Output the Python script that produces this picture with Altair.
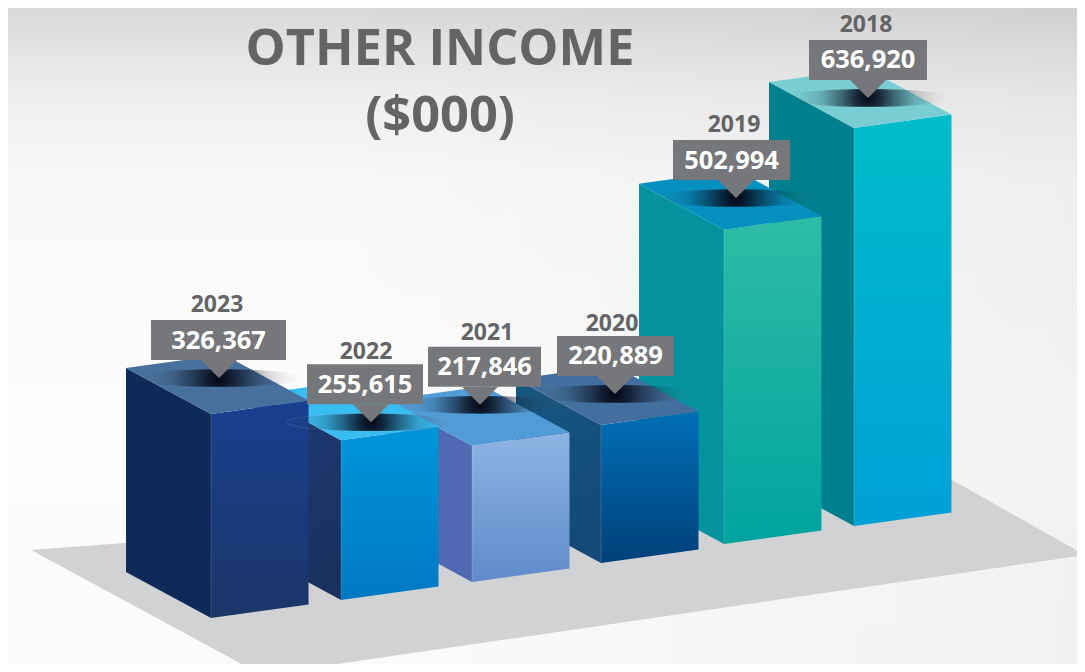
import altair as alt
import pandas as pd

# ---- chart values (drawn back to front) ----
years = ["2018", "2019", "2020", "2021", "2022", "2023"]
values = [636920, 502994, 220889, 217846, 255615, 326367]
title_lines = ["OTHER INCOME", "($000)"]

# ---- layout of the pseudo-3D scene, in picture pixels ----
corner_x = [854, 724, 601, 472, 341, 211]
floor_y = [526, 544, 563, 582, 600, 618]
px_per_unit = 0.625 / 1000
front_w, front_rise = 97.5, 13.5
side_w, side_drop = 85, 46
tip_x = [868, 736, 615, 480, 371, 219]
tip_dy = [-30, -31.6, -31, -41, -18, -36]
box_l = [809, 673, 557, 428, 307, 151]
box_r = [927, 790, 674, 541, 423, 286]
year_x = [866, 734, 612, 487, 366, 217]
year_dy = [15, 15, 12, 14, 12, 15]  # gap between label box top and year centre

# ---- styles ----
side_fill = [("#007f8f", "#007f8f"), ("#05949f", "#05929f"), ("#17577f", "#134a78"),
             ("#5069b3", "#5069b3"), ("#1f3c78", "#1a3160"), ("#0e2a58", "#0e2a58")]
front_fill = [("#00bcc9", "#00a0d6"), ("#2ebca6", "#00a39f"), ("#006fb5", "#004079"),
              ("#8fb4e2", "#5f8bca"), ("#0095da", "#0078c4"), ("#1a3f8f", "#1b3668")]
top_fill = ["#78ced3", "#0590c0", "#426f9d", "#519bd6", "#38bdf0", "#47709c"]
BOX = "#76777b"
INK = "#636466"

X_MIN, X_MAX, Y_MIN, Y_MAX = 8, 1077, 8, 664
X = alt.Scale(domain=[X_MIN, X_MAX], nice=False, zero=False)
Y = alt.Scale(domain=[Y_MAX, Y_MIN], nice=False, zero=False)


def x_enc(c="x"):
    return alt.X(f"{c}:Q", scale=X, axis=None)


def y_enc(c="y"):
    return alt.Y(f"{c}:Q", scale=Y, axis=None, stack=None)


def vgrad(a, b):
    return {"gradient": "linear", "x1": 0, "y1": 0, "x2": 0, "y2": 1,
            "stops": [{"offset": 0, "color": a}, {"offset": 1, "color": b}]}


def envelope(points):
    """Turn a convex polygon into x / y / y2 rows for an area mark."""
    n = len(points)
    rows = []
    for px in sorted({p[0] for p in points}):
        ys = []
        for i in range(n):
            (x0, y0), (x1, y1) = points[i], points[(i + 1) % n]
            if min(x0, x1) <= px <= max(x0, x1):
                if x0 == x1:
                    ys += [y0, y1]
                else:
                    ys.append(y0 + (y1 - y0) * (px - x0) / (x1 - x0))
        rows.append({"x": px, "y": min(ys), "y2": max(ys)})
    return pd.DataFrame(rows)


def poly(points, fill, **kw):
    return alt.Chart(envelope(points)).mark_area(fill=fill, clip=True, line=False, **kw).encode(
        x=x_enc(), y=y_enc(), y2="y2:Q")


def txt(xs, ys, texts, size, color, weight="bold"):
    df = pd.DataFrame({"x": xs, "y": ys, "t": texts})
    return alt.Chart(df).mark_text(font="Open Sans", fontWeight=weight, fontSize=size,
                                   color=color, align="center", baseline="middle").encode(
        x=x_enc(), y=y_enc(), text="t:N")


layers = []

# background
bg = pd.DataFrame({"x": [X_MIN], "x2": [X_MAX], "y": [Y_MIN], "y2": [Y_MAX]})
layers.append(alt.Chart(bg).mark_rect(fill={
    "gradient": "linear", "x1": 0, "y1": 0, "x2": 0, "y2": 1,
    "stops": [{"offset": 0, "color": "#d8d8d8"}, {"offset": 0.06, "color": "#e3e3e3"},
              {"offset": 0.14, "color": "#efefef"}, {"offset": 0.26, "color": "#f8f8f8"},
              {"offset": 0.6, "color": "#fcfcfc"}, {"offset": 1, "color": "#fbfbfb"}]}).encode(
    x=x_enc(), x2="x2:Q", y=y_enc(), y2="y2:Q"))
layers.append(alt.Chart(bg).mark_rect(fill={
    "gradient": "linear", "x1": 0, "y1": 0, "x2": 1, "y2": 0,
    "stops": [{"offset": 0.3, "color": "rgba(0,0,0,0)"}, {"offset": 1, "color": "rgba(0,0,0,0.04)"}]}).encode(
    x=x_enc(), x2="x2:Q", y=y_enc(), y2="y2:Q"))

# floor
layers.append(poly([(31, 550), (952, 480), (1085, 555), (262, 675)], "#d1d2d4"))

# title
layers.append(txt([440, 440], [49.5, 117], title_lines, 50.5, INK))

# bars
tops = []
for i, v in enumerate(values):
    cx, fy = corner_x[i], floor_y[i]
    h = v * px_per_unit
    ty = fy - h
    lx, rx = cx - side_w, cx + front_w
    bx = lx + front_w
    tops.append(ty)
    layers.append(poly([(lx, ty - side_drop), (cx, ty), (cx, fy), (lx, fy - side_drop)],
                       {"gradient": "linear", "x1": 0, "y1": 0, "x2": 0.4, "y2": 1,
                        "stops": [{"offset": 0, "color": side_fill[i][0]},
                                  {"offset": 1, "color": side_fill[i][1]}]}))
    layers.append(poly([(cx, ty), (rx, ty - front_rise), (rx, fy - front_rise), (cx, fy)],
                       vgrad(*front_fill[i])))
    layers.append(poly([(lx, ty - side_drop), (bx, ty - side_drop - front_rise),
                        (rx, ty - front_rise), (cx, ty)], top_fill[i]))
    layers.append(alt.Chart(pd.DataFrame({"x": [cx], "y": [ty], "y2": [fy]})).mark_rule(
        color="#ffffff", opacity=0.16, strokeWidth=1).encode(x=x_enc(), y=y_enc(), y2="y2:Q"))

tip_y = [t + d for t, d in zip(tops, tip_dy)]

# soft shadows under the label pointers
ELLIPSE = "M-1,0 A1,0.105,0,1,1,1,0 A1,0.105,0,1,1,-1,0 Z"
shadow = {"gradient": "radial", "x1": 0.5, "y1": 0.5, "r1": 0, "x2": 0.5, "y2": 0.5, "r2": 0.5,
          "stops": [{"offset": 0, "color": "rgba(6,8,22,1)"},
                    {"offset": 0.14, "color": "rgba(8,12,28,0.85)"},
                    {"offset": 0.34, "color": "rgba(10,16,32,0.5)"},
                    {"offset": 0.56, "color": "rgba(20,26,40,0.18)"},
                    {"offset": 0.78, "color": "rgba(70,70,70,0.07)"},
                    {"offset": 1, "color": "rgba(150,150,150,0)"}]}
layers.append(alt.Chart(pd.DataFrame({"x": tip_x, "y": tip_y})).mark_point(
    shape=ELLIPSE, size=28224, filled=True, fill=shadow, opacity=1,
    strokeWidth=0).encode(x=x_enc(), y=y_enc()))
# the faint rim of the 2022 shadow shows on the 2023 front face
rim_i = years.index("2022")
layers.append(alt.Chart(pd.DataFrame({"x": [tip_x[rim_i]], "y": [tip_y[rim_i]]})).mark_point(
    shape=ELLIPSE, size=28224, filled=False, opacity=0.25,
    stroke="#9fb6dc", strokeWidth=0.7).encode(x=x_enc(), y=y_enc()))

# label boxes, pointers and texts
for i in range(len(values)):
    b = tip_y[i] - 18
    box = pd.DataFrame({"x": [box_l[i]], "x2": [box_r[i]], "y": [b - 40], "y2": [b]})
    layers.append(alt.Chart(box).mark_rect(fill=BOX).encode(
        x=x_enc(), x2="x2:Q", y=y_enc(), y2="y2:Q"))
    layers.append(poly([(tip_x[i] - 18, b), (tip_x[i] + 18, b), (tip_x[i], tip_y[i])], BOX))

boxes_b = [t - 18 for t in tip_y]
layers.append(txt([(l + r) / 2 for l, r in zip(box_l, box_r)], [b - 19.5 for b in boxes_b],
                  [f"{v:,}" for v in values], 25.5, "#ffffff"))
layers.append(txt(year_x, [b - 40 - d for b, d in zip(boxes_b, year_dy)], years, 23, INK))

chart = alt.layer(*layers).properties(width=X_MAX - X_MIN, height=Y_MAX - Y_MIN, padding=0,
                                      autosize=alt.AutoSizeParams(type="none")
                                      ).configure_view(stroke=None)
chart.save("out.html", embed_options={"renderer": "svg", "actions": False})
